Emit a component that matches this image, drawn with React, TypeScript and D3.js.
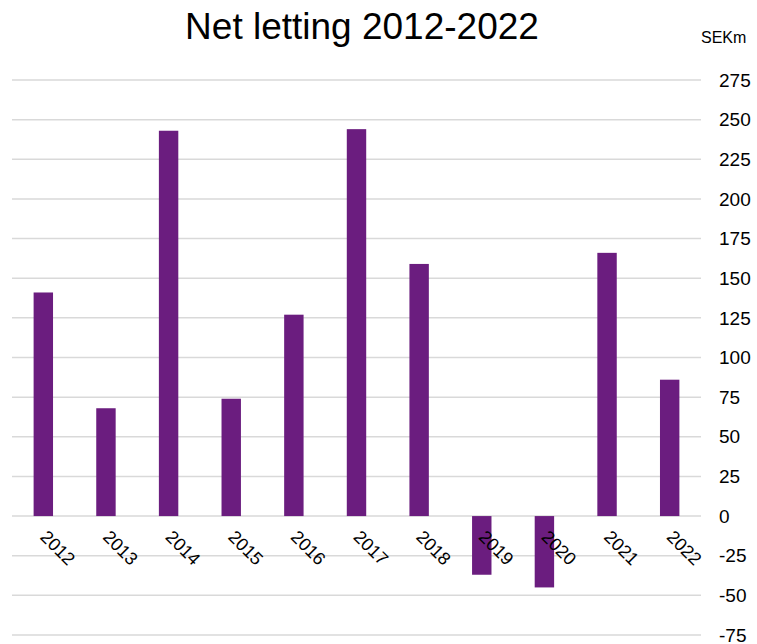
import React, {useEffect, useRef} from 'react'
import * as d3 from 'd3'

const years = ['2012', '2013', '2014', '2015', '2016', '2017', '2018', '2019', '2020', '2021', '2022'];
const netLetting = [141, 68, 243, 74, 127, 244, 159, -37, -45, 166, 86];
const yTicks = [275, 250, 225, 200, 175, 150, 125, 100, 75, 50, 25, 0, -25, -50, -75];

const width = 757;
const height = 644;
const margin = ({top: 80, right: 56, bottom: 9, left: 12});

export default function App() {
    const ref = useRef<SVGSVGElement>(null);

    useEffect(() => {
        const svg = d3.select(ref.current);
        svg.selectAll("*").remove();

        const x = d3.scaleBand()
            .domain(years)
            .range([margin.left, width - margin.right])
            .paddingInner(0.69)
            .paddingOuter(0.345);

        const y = d3.scaleLinear()
            .domain([-75, 275])
            .range([height - margin.bottom, margin.top]);

        // gridlines
        svg.append("g")
            .attr("stroke", "#d9d9d9")
            .attr("stroke-width", 1.5)
            .selectAll("line")
            .data(yTicks)
            .join("line")
            .attr("x1", margin.left)
            .attr("x2", width - margin.right)
            .attr("y1", d => y(d))
            .attr("y2", d => y(d));

        // right axis labels
        svg.append("g")
            .attr("font-family", "'Liberation Sans', Arial, sans-serif")
            .attr("font-size", 19)
            .attr("fill", "#000")
            .selectAll("text")
            .data(yTicks)
            .join("text")
            .attr("x", width - margin.right + 18)
            .attr("y", d => y(d))
            .attr("dy", "0.35em")
            .text(d => d);

        svg.append("g")
            .attr("fill", "#6b1d7f")
            .selectAll("rect")
            .data(netLetting)
            .join("rect")
            .attr("x", (d, i) => x(years[i]))
            .attr("width", x.bandwidth())
            .attr("y", d => y(Math.max(0, d)))
            .attr("height", d => Math.abs(y(d) - y(0)));

        // rotated year labels
        svg.append("g")
            .attr("font-family", "'Liberation Sans', Arial, sans-serif")
            .attr("font-size", 18)
            .attr("fill", "#000")
            .selectAll("text")
            .data(years)
            .join("text")
            .attr("transform", d => `translate(${x(d) + x.bandwidth() / 2 - 4},${y(0) + 22}) rotate(45)`)
            .text(d => d);

        svg.append("text")
            .attr("x", 362)
            .attr("y", 39)
            .attr("text-anchor", "middle")
            .attr("font-family", "'Liberation Sans', Arial, sans-serif")
            .attr("font-size", 37)
            .text("Net letting 2012-2022");

        svg.append("text")
            .attr("x", 701)
            .attr("y", 43)
            .attr("font-family", "'Liberation Sans', Arial, sans-serif")
            .attr("font-size", 16)
            .text("SEKm");
    }, []);

    return <svg ref={ref} width={width} height={height}
                style={{position: "absolute", left: 0, top: 0, background: "#fff"}}/>;
}
